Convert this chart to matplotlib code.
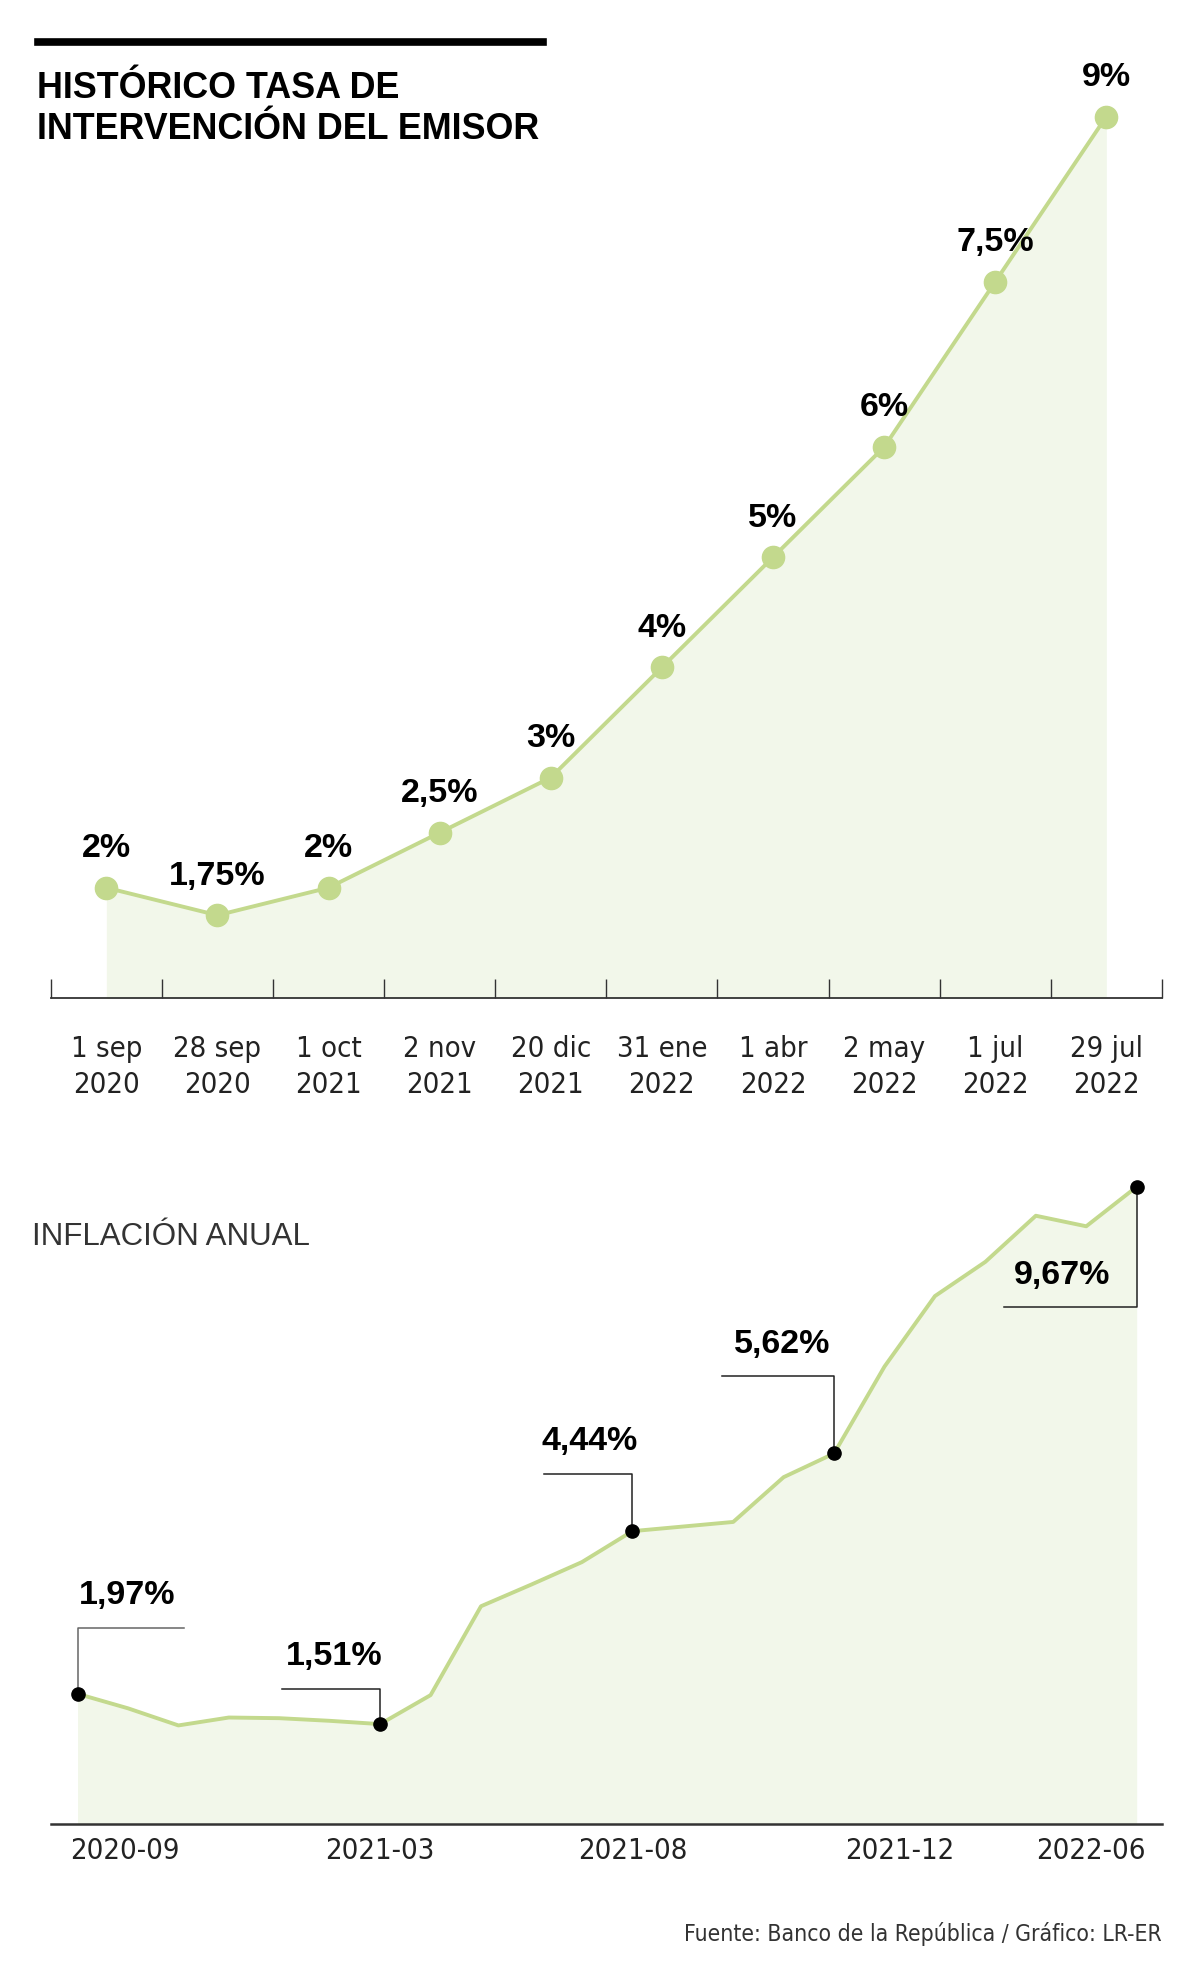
import matplotlib
matplotlib.use("Agg")
import matplotlib.pyplot as plt
from matplotlib import font_manager

# Tasa de intervención (Banco de la República)
rate_dates = ["1 sep\n2020", "28 sep\n2020", "1 oct\n2021", "2 nov\n2021", "20 dic\n2021",
              "31 ene\n2022", "1 abr\n2022", "2 may\n2022", "1 jul\n2022", "29 jul\n2022"]
rate_values = [2.0, 1.75, 2.0, 2.5, 3.0, 4.0, 5.0, 6.0, 7.5, 9.0]
rate_labels = ["2%", "1,75%", "2%", "2,5%", "3%", "4%", "5%", "6%", "7,5%", "9%"]

# Inflación anual, mensual 2020-09 .. 2022-06
infl_months = ["2020-09", "2020-10", "2020-11", "2020-12", "2021-01", "2021-02", "2021-03",
               "2021-04", "2021-05", "2021-06", "2021-07", "2021-08", "2021-09", "2021-10",
               "2021-11", "2021-12", "2022-01", "2022-02", "2022-03", "2022-04", "2022-05",
               "2022-06"]
infl_values = [1.97, 1.75, 1.49, 1.61, 1.60, 1.56, 1.51, 1.95, 3.30, 3.63, 3.97, 4.44,
               4.51, 4.58, 5.26, 5.62, 6.94, 8.01, 8.53, 9.23, 9.07, 9.67]
callout_idx = [0, 6, 11, 15, 21]
callout_text = ["1,97%", "1,51%", "4,44%", "5,62%", "9,67%"]
# tick labels sit a bit off the month positions in the original
infl_tick_pos = [0.93, 6.0, 11.0, 16.3, 20.1]
infl_tick_lab = ["2020-09", "2021-03", "2021-08", "2021-12", "2022-06"]

GREEN = "#c3d98d"
FILL = "#f2f7ea"
DARK = "#222222"

names = {f.name for f in font_manager.fontManager.ttflist}
BOLD = "Liberation Sans" if "Liberation Sans" in names else "DejaVu Sans"
if "Liberation Sans Narrow" in names:
    NARROW = dict(family="Liberation Sans Narrow")
else:
    NARROW = dict(family="DejaVu Sans", stretch="condensed")

W, H = 945.0, 1567.5


def fx(x):
    return x / W


def fy(y):
    return 1 - y / H


fig = plt.figure(figsize=(12, 19.85), dpi=100)

# title
fig.add_artist(plt.Line2D([fx(30), fx(428)], [fy(33), fy(33)], color="black", lw=5.5))
fig.text(fx(29), fy(70), "HISTÓRICO TASA DE", family=BOLD, weight="bold", fontsize=25.8,
         va="center", ha="left", color="black")
fig.text(fx(29), fy(102), "INTERVENCIÓN DEL EMISOR", family=BOLD, weight="bold", fontsize=25.8,
         va="center", ha="left", color="black")

# ---- top chart ----
ax1 = fig.add_axes([fx(40), fy(788), fx(915) - fx(40), fy(40) - fy(788)])
x1 = list(range(len(rate_values)))
ax1.fill_between(x1, 1.0, rate_values, color=FILL, lw=0)
ax1.plot(x1, rate_values, color=GREEN, lw=2.8, marker="o", ms=16, mfc=GREEN, mec=GREEN, zorder=3)
for xi, v, lab in zip(x1, rate_values, rate_labels):
    ax1.annotate(lab, (xi, v), xytext=(0, 22), textcoords="offset points", ha="center",
                 va="baseline", family=BOLD, weight="bold", fontsize=24.5, color="black",
                 annotation_clip=False)
ax1.set_xlim(-0.5, len(rate_values) - 0.5)
ax1.set_ylim(1.0, 1.0 + 748 / 87.0)
for s in ["top", "left", "right"]:
    ax1.spines[s].set_visible(False)
ax1.spines["bottom"].set_color("#333333")
ax1.spines["bottom"].set_linewidth(1.3)
ax1.set_yticks([])
ax1.set_xticks([i - 0.5 for i in range(len(rate_values) + 1)])
ax1.set_xticklabels([])
ax1.tick_params(axis="x", which="major", direction="in", length=14, width=1.0, color="#333333")
ax1.set_xticks(x1, minor=True)
ax1.set_xticklabels(rate_dates, minor=True, fontsize=21, color="#222222", linespacing=1.35,
                    **NARROW)
ax1.tick_params(axis="x", which="minor", length=0, pad=27)

# ---- bottom chart ----
fig.text(fx(25), fy(977), "INFLACIÓN ANUAL", family=BOLD, fontsize=22.5, color="#333333",
         va="center", ha="left")

ax2 = fig.add_axes([fx(40), fy(1440), fx(915) - fx(40), fy(920) - fy(1440)])
x2 = list(range(len(infl_values)))
ax2.fill_between(x2, 0, infl_values, color=FILL, lw=0)
ax2.plot(x2, infl_values, color=GREEN, lw=2.8, zorder=2)
ax2.set_xlim(-0.53, 21.5)
ax2.set_ylim(0, 10.0)

callout_dy = [1.0, 0.54, 0.87, 1.17, -1.83]
callout_dx = [2.12, -1.95, -1.76, -2.23, -2.64]
callout_col = ["#666666", DARK, DARK, DARK, DARK]
callout_pad = [0.02, 0.08, -0.05, 0.25, 0.2]
for i, lab, dy, dx, c, p in zip(callout_idx, callout_text, callout_dy, callout_dx, callout_col,
                                callout_pad):
    v = infl_values[i]
    ey = v + dy
    ax2.plot([i, i, i + dx], [v, ey, ey], color=c, lw=1.1, zorder=3, clip_on=False)
    left = min(i, i + dx)
    ax2.text(left + p, ey + 0.36, lab, ha="left", va="baseline", family=BOLD, weight="bold",
             fontsize=24.5, color="black", clip_on=False)
ax2.plot(callout_idx, [infl_values[i] for i in callout_idx], "o", color="black", ms=9.5,
         zorder=4, clip_on=False)

for s in ["top", "left", "right"]:
    ax2.spines[s].set_visible(False)
ax2.spines["bottom"].set_color("#333333")
ax2.spines["bottom"].set_linewidth(1.8)
ax2.set_yticks([])
ax2.set_xticks(infl_tick_pos)
ax2.set_xticklabels(infl_tick_lab, fontsize=21, color="#222222", **NARROW)
ax2.tick_params(axis="x", length=0, pad=10)

fig.text(fx(915), fy(1527), "Fuente: Banco de la República / Gráfico: LR-ER", ha="right",
         va="center", fontsize=16.5, color="#333333", **NARROW)

fig.savefig("out.png", dpi=100, facecolor="white")
